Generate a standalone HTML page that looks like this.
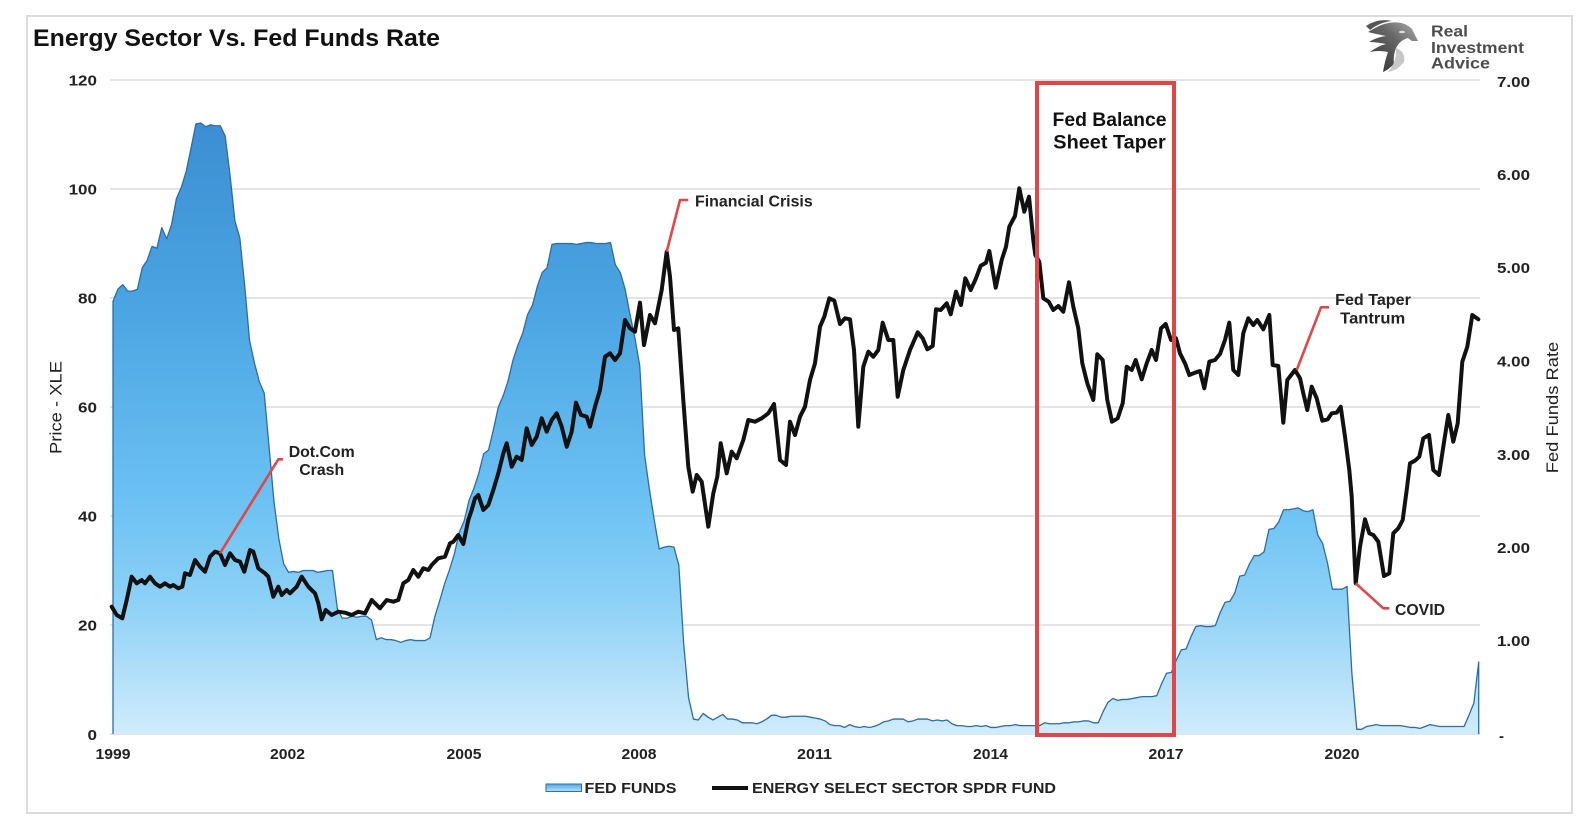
<!DOCTYPE html>
<html>
<head>
<meta charset="utf-8">
<style>
  html,body{margin:0;padding:0;background:#fff;}
  body{width:1594px;height:832px;overflow:hidden;}
  svg{display:block;}
  text{font-family:"Liberation Sans",Arial,sans-serif;}
</style>
</head>
<body>
<svg width="1594" height="832" viewBox="0 0 1594 832" xmlns="http://www.w3.org/2000/svg">
  <defs>
    <linearGradient id="ff" gradientUnits="userSpaceOnUse" x1="0" y1="7" x2="0" y2="0">
      <stop offset="0" stop-color="#3a88cc"/>
      <stop offset="0.1" stop-color="#3d91d4"/>
      <stop offset="0.35" stop-color="#4aa5e2"/>
      <stop offset="0.65" stop-color="#6cc2f3"/>
      <stop offset="0.8" stop-color="#8dd1f6"/>
      <stop offset="1" stop-color="#d0ecfb"/>
    </linearGradient>
    <linearGradient id="lg" x1="0" y1="0" x2="0" y2="1">
      <stop offset="0" stop-color="#4ea6e2"/>
      <stop offset="1" stop-color="#b9e2f9"/>
    </linearGradient>
    <linearGradient id="eg" gradientUnits="userSpaceOnUse" x1="1368" y1="72" x2="1416" y2="20">
      <stop offset="0" stop-color="#2f2f2f"/>
      <stop offset="0.6" stop-color="#666"/>
      <stop offset="1" stop-color="#b0b0b0"/>
    </linearGradient>
  </defs>

  <rect x="0" y="0" width="1594" height="832" fill="#fff"/>
  <!-- frame -->
  <rect x="27" y="16" width="1545" height="797" fill="none" stroke="#dcdcdc" stroke-width="2"/>

  <!-- title -->
  <text x="33" y="46" font-size="24" font-weight="bold" fill="#111" textLength="407" lengthAdjust="spacingAndGlyphs">Energy Sector Vs. Fed Funds Rate</text>

  <!-- logo -->
  <path d="M1384,24 Q1402,19 1412,29 L1418,41 L1412,41 L1408,38 Q1400,40 1396,48 Q1393,56 1394,64 Q1388,70 1383,72 Q1385,60 1388,52 Q1378,50 1370,52 Q1378,46 1386,44 Q1376,42 1369,42 Q1377,37 1386,36 Q1376,34 1368,32 Q1376,27 1384,24 Z" fill="url(#eg)"/>
  <path d="M1366,26 Q1378,18 1392,21 Q1380,22 1370,30 Z" fill="#555"/>
  <path d="M1396,48 Q1406,52 1404,62 Q1398,70 1388,72 Q1397,62 1396,48 Z" fill="#c8c8c8"/>
  <ellipse cx="1402" cy="32" rx="3" ry="1.3" fill="#ddd"/>
  <text x="1431" y="36.7" font-size="15.5" font-weight="bold" fill="#4d4d4d" textLength="37" lengthAdjust="spacingAndGlyphs">Real</text>
  <text x="1431" y="53" font-size="15.5" font-weight="bold" fill="#4d4d4d" textLength="93" lengthAdjust="spacingAndGlyphs">Investment</text>
  <text x="1431" y="68.3" font-size="15.5" font-weight="bold" fill="#4d4d4d" textLength="59" lengthAdjust="spacingAndGlyphs">Advice</text>

  <!-- gridlines -->
  <g stroke="#dcdcdc" stroke-width="1.5">
    <line x1="110" y1="80" x2="1480" y2="80"/>
    <line x1="110" y1="189" x2="1480" y2="189"/>
    <line x1="110" y1="298" x2="1480" y2="298"/>
    <line x1="110" y1="407" x2="1480" y2="407"/>
    <line x1="110" y1="516" x2="1480" y2="516"/>
    <line x1="110" y1="625" x2="1480" y2="625"/>
    <line x1="110" y1="734" x2="1480" y2="734"/>
  </g>

  <!-- Fed funds area -->
  <g transform="translate(113,734) scale(4.8775,-93.43)">
    <polygon id="ffarea" fill="url(#ff)" stroke="none" points="0,0 0,4.63 1,4.76 2,4.81 3,4.74 4,4.74 5,4.76 6,4.99 7,5.07 8,5.22 9,5.20 10,5.42 11,5.30 12,5.45 13,5.73 14,5.85 15,6.02 16,6.27 17,6.53 18,6.54 19,6.50 20,6.52 21,6.51 22,6.51 23,6.40 24,5.98 25,5.49 26,5.31 27,4.80 28,4.21 29,3.97 30,3.77 31,3.65 32,3.07 33,2.49 34,2.09 35,1.82 36,1.73 37,1.74 38,1.73 39,1.75 40,1.75 41,1.75 42,1.73 43,1.74 44,1.75 45,1.75 46,1.34 47,1.24 48,1.24 49,1.26 50,1.25 51,1.26 52,1.26 53,1.22 54,1.01 55,1.03 56,1.01 57,1.01 58,1.00 59,0.98 60,1.00 61,1.01 62,1.00 63,1.00 64,1.00 65,1.03 66,1.26 67,1.43 68,1.61 69,1.76 70,1.93 71,2.16 72,2.28 73,2.50 74,2.63 75,2.79 76,3.00 77,3.04 78,3.26 79,3.50 80,3.62 81,3.78 82,4.00 83,4.16 84,4.29 85,4.49 86,4.59 87,4.79 88,4.94 89,4.99 90,5.24 91,5.25 92,5.25 93,5.25 94,5.25 95,5.24 96,5.25 97,5.26 98,5.26 99,5.25 100,5.25 101,5.25 102,5.26 103,5.02 104,4.94 105,4.76 106,4.49 107,4.24 108,3.94 109,2.98 110,2.61 111,2.28 112,1.98 113,2.00 114,2.01 115,2.00 116,1.81 117,0.97 118,0.39 119,0.16 120,0.15 121,0.22 122,0.18 123,0.15 124,0.18 125,0.21 126,0.16 127,0.16 128,0.15 129,0.12 130,0.12 131,0.12 132,0.11 133,0.13 134,0.16 135,0.20 136,0.20 137,0.18 138,0.18 139,0.19 140,0.19 141,0.19 142,0.19 143,0.18 144,0.17 145,0.16 146,0.14 147,0.10 148,0.09 149,0.09 150,0.07 151,0.10 152,0.08 153,0.07 154,0.08 155,0.07 156,0.08 157,0.10 158,0.13 159,0.14 160,0.16 161,0.16 162,0.16 163,0.13 164,0.14 165,0.16 166,0.16 167,0.16 168,0.14 169,0.15 170,0.14 171,0.15 172,0.11 173,0.09 174,0.09 175,0.08 176,0.08 177,0.09 178,0.08 179,0.09 180,0.07 181,0.07 182,0.08 183,0.09 184,0.09 185,0.10 186,0.09 187,0.09 188,0.09 189,0.09 190,0.09 191,0.12 192,0.11 193,0.11 194,0.11 195,0.12 196,0.12 197,0.13 198,0.13 199,0.14 200,0.14 201,0.12 202,0.12 203,0.24 204,0.34 205,0.38 206,0.36 207,0.37 208,0.37 209,0.38 210,0.39 211,0.40 212,0.40 213,0.40 214,0.41 215,0.54 216,0.65 217,0.66 218,0.79 219,0.90 220,0.91 221,1.04 222,1.15 223,1.16 224,1.15 225,1.15 226,1.16 227,1.30 228,1.41 229,1.42 230,1.51 231,1.69 232,1.70 233,1.82 234,1.91 235,1.91 236,1.95 237,2.19 238,2.20 239,2.27 240,2.40 241,2.40 242,2.41 243,2.42 244,2.39 245,2.38 246,2.40 247,2.13 248,2.04 249,1.83 250,1.55 251,1.55 252,1.55 253,1.58 254,0.65 255,0.05 256,0.05 257,0.08 258,0.09 259,0.10 260,0.09 261,0.09 262,0.09 263,0.09 264,0.09 265,0.08 266,0.07 267,0.07 268,0.06 269,0.08 270,0.10 271,0.09 272,0.08 273,0.08 274,0.08 275,0.08 276,0.08 277,0.08 278,0.20 279,0.33 280,0.77 280,0"/>
    <polyline fill="none" stroke="#2d6ca5" stroke-width="1.3" vector-effect="non-scaling-stroke" stroke-linejoin="round" points="0,0 0,4.63 1,4.76 2,4.81 3,4.74 4,4.74 5,4.76 6,4.99 7,5.07 8,5.22 9,5.20 10,5.42 11,5.30 12,5.45 13,5.73 14,5.85 15,6.02 16,6.27 17,6.53 18,6.54 19,6.50 20,6.52 21,6.51 22,6.51 23,6.40 24,5.98 25,5.49 26,5.31 27,4.80 28,4.21 29,3.97 30,3.77 31,3.65 32,3.07 33,2.49 34,2.09 35,1.82 36,1.73 37,1.74 38,1.73 39,1.75 40,1.75 41,1.75 42,1.73 43,1.74 44,1.75 45,1.75 46,1.34 47,1.24 48,1.24 49,1.26 50,1.25 51,1.26 52,1.26 53,1.22 54,1.01 55,1.03 56,1.01 57,1.01 58,1.00 59,0.98 60,1.00 61,1.01 62,1.00 63,1.00 64,1.00 65,1.03 66,1.26 67,1.43 68,1.61 69,1.76 70,1.93 71,2.16 72,2.28 73,2.50 74,2.63 75,2.79 76,3.00 77,3.04 78,3.26 79,3.50 80,3.62 81,3.78 82,4.00 83,4.16 84,4.29 85,4.49 86,4.59 87,4.79 88,4.94 89,4.99 90,5.24 91,5.25 92,5.25 93,5.25 94,5.25 95,5.24 96,5.25 97,5.26 98,5.26 99,5.25 100,5.25 101,5.25 102,5.26 103,5.02 104,4.94 105,4.76 106,4.49 107,4.24 108,3.94 109,2.98 110,2.61 111,2.28 112,1.98 113,2.00 114,2.01 115,2.00 116,1.81 117,0.97 118,0.39 119,0.16 120,0.15 121,0.22 122,0.18 123,0.15 124,0.18 125,0.21 126,0.16 127,0.16 128,0.15 129,0.12 130,0.12 131,0.12 132,0.11 133,0.13 134,0.16 135,0.20 136,0.20 137,0.18 138,0.18 139,0.19 140,0.19 141,0.19 142,0.19 143,0.18 144,0.17 145,0.16 146,0.14 147,0.10 148,0.09 149,0.09 150,0.07 151,0.10 152,0.08 153,0.07 154,0.08 155,0.07 156,0.08 157,0.10 158,0.13 159,0.14 160,0.16 161,0.16 162,0.16 163,0.13 164,0.14 165,0.16 166,0.16 167,0.16 168,0.14 169,0.15 170,0.14 171,0.15 172,0.11 173,0.09 174,0.09 175,0.08 176,0.08 177,0.09 178,0.08 179,0.09 180,0.07 181,0.07 182,0.08 183,0.09 184,0.09 185,0.10 186,0.09 187,0.09 188,0.09 189,0.09 190,0.09 191,0.12 192,0.11 193,0.11 194,0.11 195,0.12 196,0.12 197,0.13 198,0.13 199,0.14 200,0.14 201,0.12 202,0.12 203,0.24 204,0.34 205,0.38 206,0.36 207,0.37 208,0.37 209,0.38 210,0.39 211,0.40 212,0.40 213,0.40 214,0.41 215,0.54 216,0.65 217,0.66 218,0.79 219,0.90 220,0.91 221,1.04 222,1.15 223,1.16 224,1.15 225,1.15 226,1.16 227,1.30 228,1.41 229,1.42 230,1.51 231,1.69 232,1.70 233,1.82 234,1.91 235,1.91 236,1.95 237,2.19 238,2.20 239,2.27 240,2.40 241,2.40 242,2.41 243,2.42 244,2.39 245,2.38 246,2.40 247,2.13 248,2.04 249,1.83 250,1.55 251,1.55 252,1.55 253,1.58 254,0.65 255,0.05 256,0.05 257,0.08 258,0.09 259,0.10 260,0.09 261,0.09 262,0.09 263,0.09 264,0.09 265,0.08 266,0.07 267,0.07 268,0.06 269,0.08 270,0.10 271,0.09 272,0.08 273,0.08 274,0.08 275,0.08 276,0.08 277,0.08 278,0.20 279,0.33 280,0.77 280,0"/>
  </g>

  <!-- XLE line -->
  <polyline fill="none" stroke="#111" stroke-width="4" stroke-linejoin="round" stroke-linecap="round" points="111.7,606.7 116.7,615 122.3,618.3 126.7,600 131.7,576.7 136.7,583.3 141.7,580 145,583.3 150,576.7 155,583.3 160,586.7 165,583.3 170,586.7 173.3,585 178.3,588.3 182.3,586.7 185,573.3 190,575 195,560 200,566.7 205,571.7 210,556.7 215,551.7 220,553.3 225,565 230,553.3 235,560 240,561.7 244.3,571.7 250,550 253.3,551.7 258.3,568.3 265,573.3 268.3,576.7 273.3,596.7 278.3,586.7 281.7,595 286.7,590 290,593.3 296.7,586.7 301.7,576.7 308.3,586.7 315,593.3 318.3,603.3 321.7,619.3 325.7,610 331.7,615 338.3,611.7 345,612.7 351.7,615 358.3,611.7 365,613.3 371.7,600 380,608.3 386.7,600 393.3,601.7 398.3,600 403.3,583.3 408.3,580 413.3,570 418.3,576.7 423.3,568.3 428.3,570 431.7,565 438.3,558.3 445,556.7 450,543.3 453.3,541.7 458.3,535 463.3,544 468.3,520 471.7,510 475,498.3 478.3,495 483.3,510 488.3,505 493.3,490 498.3,473.3 503.3,453.3 506.7,443.3 511.7,466.7 516.7,456.7 521.7,460 526.7,428.3 531.7,445 536.7,436.7 541.7,418.3 546.7,431.7 551.7,420 556.7,413.3 561.7,426.7 566.7,446.7 571.7,431.7 576,402.7 581,415 586.7,416.7 590,426.7 595,406.7 600,390 605,356.7 610,353.3 615,360 620,353.3 625,320 630,328.3 635,331.7 640,302.7 644,345 650,315 655,323.3 661.7,290 666.7,251.7 670,276.7 674,330 678.3,328.3 683.3,400 688.3,466.7 692.7,491.7 696.7,475 701.7,481.7 708.3,526.7 713.3,493.3 717.3,476.7 720.7,443.3 726.7,473.3 731.7,451.7 736.7,458.3 743.3,440 748.3,420 755,421.7 761.7,418.3 768.3,413.3 774,404 780,460 786,465 790,421.7 795,435 800,416.7 805,406.7 810,380 815,363.3 820,326.7 824.3,316.7 829.3,298.3 834.3,300.7 840,324 845,318.3 850,319.3 854,350 858.3,426.7 863.3,366.7 868.3,351.7 873.3,356.7 878.3,350 882.7,322.7 888.3,340 893.3,340 897.7,396.7 903.3,370 910,350 917.7,332.3 922.7,338.3 927.3,349.3 932.7,346 936,309.3 940.7,310 946.7,303.3 950.7,314.3 956,291.7 961,305 965.3,278.3 970.7,290 976,278.3 980.7,265.7 986,262.7 989.3,251 995.7,287.7 1001.7,260 1006,246.7 1009.3,226.7 1015,216 1019.3,188.3 1024.3,211.7 1029,196.7 1033.3,240 1035.3,255 1039.3,261.7 1043.3,298.3 1048.7,301.7 1053.3,310 1058.3,306 1063.3,311.7 1069,282.3 1073.3,306.7 1078.3,328.3 1082.3,363.3 1087.3,383.3 1093.3,400 1097.3,354.3 1102.7,360 1107.3,400 1112,421.7 1117.7,418.3 1122.7,403.3 1126.7,366.7 1131.7,370 1135.7,360 1141.7,379.3 1146.7,363.3 1151.7,350 1156,360 1161,328.3 1165.7,324 1171,340 1176,338.3 1180,353.3 1185,363.3 1189.3,375 1195,372.7 1200,371 1204.3,388.3 1209.3,361.7 1215,360 1220,354 1225,340 1229.3,322.7 1233.3,370 1238.3,375 1243.3,333.3 1248.3,318.3 1253.3,325 1257.3,320 1263.3,329.3 1269.3,315 1272.7,365 1278.3,366 1283.3,422.7 1287.3,380 1295,370 1300,378.3 1303.3,393.3 1307.3,410 1311.7,386.7 1316.7,398.3 1322.3,420.7 1327.7,419.3 1331.7,413.3 1336.7,412.7 1340.7,406.7 1345,436.7 1349.3,470 1351.7,496.7 1355.7,583.3 1360,546.7 1365,519.3 1369.3,533.3 1373.3,535 1378.3,541.7 1384,576 1389.3,573.3 1393.3,533.3 1398.3,528.3 1402.7,520 1406.7,490 1410,463.3 1415,460.7 1419.3,456.7 1423.3,438.3 1429,435 1433.3,470 1439,475 1443.3,446.7 1448.3,415 1453.3,441.7 1457.7,423.3 1462.3,361.7 1467.3,346.7 1472.3,315 1478.3,319.3"/>

  <!-- annotation lines -->
  <g fill="none" stroke="#e04848" stroke-width="2.6" stroke-linejoin="round">
    <polyline points="220,553.3 278.3,459.3 283,459.3"/>
    <polyline points="666.7,251.7 680,200 688.3,200"/>
    <polyline points="1296.7,370 1321,307.3 1329,307.3"/>
    <polyline points="1355.7,583.3 1383.3,608.3 1389.3,608.3"/>
  </g>

  <!-- red box -->
  <rect x="1037" y="83" width="137" height="652" fill="none" stroke="#e04646" stroke-width="4"/>

  <!-- annotation texts -->
  <g font-size="16" font-weight="bold" fill="#222">
    <text x="321.7" y="456.8" text-anchor="middle" textLength="66" lengthAdjust="spacingAndGlyphs">Dot.Com</text>
    <text x="321.7" y="475" text-anchor="middle" textLength="45" lengthAdjust="spacingAndGlyphs">Crash</text>
    <text x="695" y="206.7" textLength="117.7" lengthAdjust="spacingAndGlyphs">Financial Crisis</text>
    <text x="1373" y="305" text-anchor="middle" textLength="75.7" lengthAdjust="spacingAndGlyphs">Fed Taper</text>
    <text x="1372.7" y="323.7" text-anchor="middle" textLength="65" lengthAdjust="spacingAndGlyphs">Tantrum</text>
    <text x="1395" y="615" textLength="50" lengthAdjust="spacingAndGlyphs">COVID</text>
  </g>
  <g font-size="19" font-weight="bold" fill="#111">
    <text x="1109.5" y="126" text-anchor="middle" textLength="114" lengthAdjust="spacingAndGlyphs">Fed Balance</text>
    <text x="1109.5" y="148.3" text-anchor="middle" textLength="112.4" lengthAdjust="spacingAndGlyphs">Sheet Taper</text>
  </g>

  <!-- left axis labels -->
  <g font-size="15" font-weight="bold" fill="#222" text-anchor="end">
    <text x="97" y="85.5" textLength="28.4" lengthAdjust="spacingAndGlyphs">120</text>
    <text x="97" y="194.5" textLength="28.4" lengthAdjust="spacingAndGlyphs">100</text>
    <text x="97" y="303.5" textLength="19" lengthAdjust="spacingAndGlyphs">80</text>
    <text x="97" y="412.5" textLength="19" lengthAdjust="spacingAndGlyphs">60</text>
    <text x="97" y="521.5" textLength="19" lengthAdjust="spacingAndGlyphs">40</text>
    <text x="97" y="630.5" textLength="19" lengthAdjust="spacingAndGlyphs">20</text>
    <text x="97" y="740" textLength="9.5" lengthAdjust="spacingAndGlyphs">0</text>
  </g>

  <!-- right axis labels -->
  <g font-size="15" font-weight="bold" fill="#222">
    <text x="1497" y="87" textLength="33" lengthAdjust="spacingAndGlyphs">7.00</text>
    <text x="1497" y="180" textLength="33" lengthAdjust="spacingAndGlyphs">6.00</text>
    <text x="1497" y="273" textLength="33" lengthAdjust="spacingAndGlyphs">5.00</text>
    <text x="1497" y="366.5" textLength="33" lengthAdjust="spacingAndGlyphs">4.00</text>
    <text x="1497" y="459.8" textLength="33" lengthAdjust="spacingAndGlyphs">3.00</text>
    <text x="1497" y="553" textLength="33" lengthAdjust="spacingAndGlyphs">2.00</text>
    <text x="1497" y="646" textLength="33" lengthAdjust="spacingAndGlyphs">1.00</text>
    <text x="1501.5" y="741" text-anchor="middle">-</text>
  </g>

  <!-- x axis labels -->
  <g font-size="15" font-weight="bold" fill="#222" text-anchor="middle">
    <text x="113" y="759" textLength="35" lengthAdjust="spacingAndGlyphs">1999</text>
    <text x="287.5" y="759" textLength="35" lengthAdjust="spacingAndGlyphs">2002</text>
    <text x="464" y="759" textLength="35" lengthAdjust="spacingAndGlyphs">2005</text>
    <text x="639" y="759" textLength="35" lengthAdjust="spacingAndGlyphs">2008</text>
    <text x="814.5" y="759" textLength="35" lengthAdjust="spacingAndGlyphs">2011</text>
    <text x="990.5" y="759" textLength="35" lengthAdjust="spacingAndGlyphs">2014</text>
    <text x="1166" y="759" textLength="35" lengthAdjust="spacingAndGlyphs">2017</text>
    <text x="1342" y="759" textLength="35" lengthAdjust="spacingAndGlyphs">2020</text>
  </g>

  <!-- axis titles -->
  <text transform="translate(61.5,407.5) rotate(-90)" text-anchor="middle" font-size="17" fill="#222" textLength="93" lengthAdjust="spacingAndGlyphs">Price - XLE</text>
  <text transform="translate(1558,407.5) rotate(-90)" text-anchor="middle" font-size="17" fill="#222" textLength="131.5" lengthAdjust="spacingAndGlyphs">Fed Funds Rate</text>

  <!-- legend -->
  <rect x="546" y="784" width="35.5" height="7.5" fill="url(#lg)" stroke="#2e6fae" stroke-width="1"/>
  <text x="584.5" y="793" font-size="14.5" font-weight="bold" fill="#222" textLength="92" lengthAdjust="spacingAndGlyphs">FED FUNDS</text>
  <line x1="712" y1="788" x2="748" y2="788" stroke="#111" stroke-width="4"/>
  <text x="752" y="793" font-size="14.5" font-weight="bold" fill="#222" textLength="304" lengthAdjust="spacingAndGlyphs">ENERGY SELECT SECTOR SPDR FUND</text>
</svg>
</body>
</html>
